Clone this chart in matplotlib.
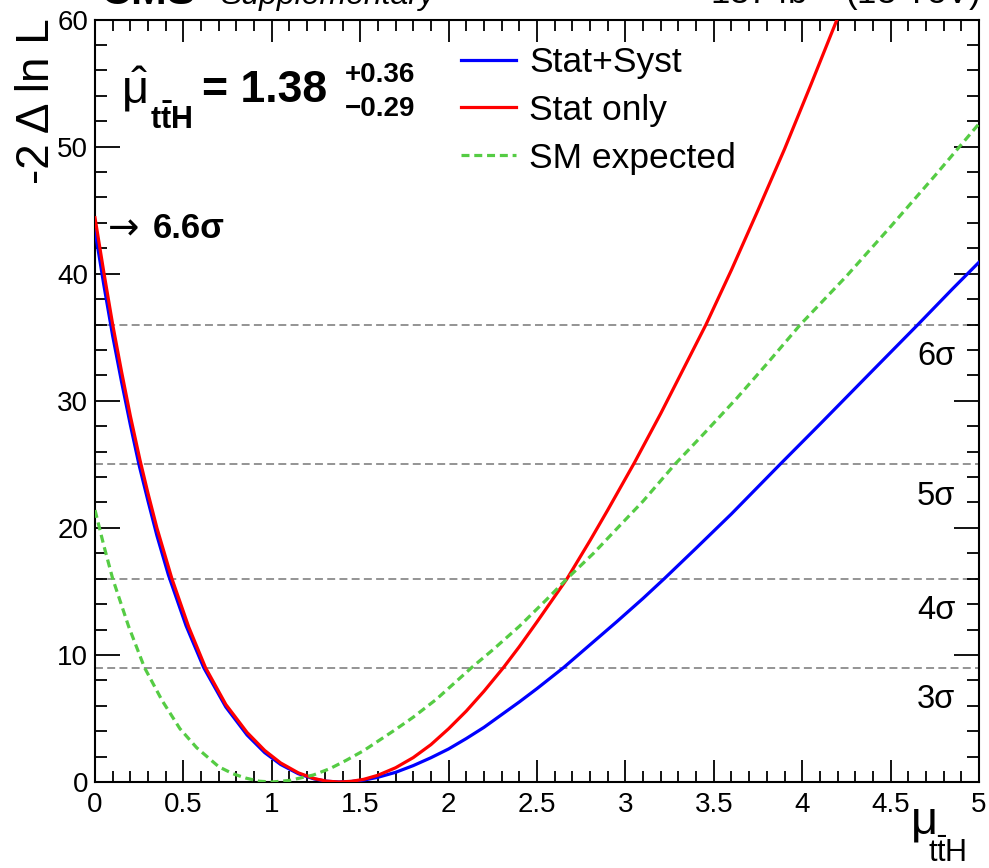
import matplotlib
matplotlib.use("Agg")
import matplotlib.pyplot as plt
from matplotlib.ticker import MultipleLocator, FuncFormatter

plt.rcParams["font.family"] = ["Liberation Sans", "DejaVu Sans"]
plt.rcParams["mathtext.fontset"] = "custom"
plt.rcParams["mathtext.rm"] = "Liberation Sans"
plt.rcParams["mathtext.it"] = "Liberation Sans:italic"
plt.rcParams["mathtext.bf"] = "Liberation Sans:bold"
plt.rcParams["mathtext.default"] = "regular"

# -2 dlnL scans
mu_syst = [0.0, 0.05, 0.1, 0.15, 0.2, 0.25, 0.3, 0.35, 0.415, 0.515, 0.615, 0.74,
           0.86, 0.96, 1.05, 1.15, 1.24, 1.31, 1.38, 1.45, 1.52, 1.6, 1.7, 1.8, 1.9,
           2.0, 2.1, 2.2, 2.3, 2.4, 2.5, 2.65, 2.8, 2.95, 3.1, 3.22, 3.4, 3.6, 3.875,
           4.1, 4.4, 4.655, 4.85, 5.0]
nll_syst = [43.4, 39.1, 35.1, 31.5, 28.1, 24.9, 22.1, 19.4, 16.3, 12.3, 9.0, 5.9,
            3.7, 2.31, 1.38, 0.65, 0.24, 0.06, 0.0, 0.04, 0.15, 0.37, 0.76, 1.29, 1.91,
            2.6, 3.42, 4.3, 5.3, 6.3, 7.35, 9.0, 10.8, 12.6, 14.45, 16.0, 18.4, 21.1, 25.0,
            28.15, 32.4, 36.0, 38.8, 40.9]

mu_stat = [0.0, 0.05, 0.1, 0.15, 0.2, 0.255, 0.3, 0.35, 0.435, 0.53, 0.625, 0.74,
           0.86, 0.96, 1.05, 1.15, 1.24, 1.31, 1.38, 1.45, 1.52, 1.6, 1.7, 1.8, 1.9,
           2.0, 2.1, 2.2, 2.31, 2.4, 2.5, 2.6, 2.67, 2.8, 2.9, 3.05, 3.2, 3.35, 3.456,
           3.6, 3.75, 3.9, 4.05, 4.197, 4.3]
nll_stat = [44.4, 40.1, 36.0, 32.3, 28.8, 25.3, 22.7, 20.0, 16.0, 12.2, 9.0, 6.1,
            3.9, 2.48, 1.5, 0.72, 0.27, 0.067, 0.0, 0.053, 0.21, 0.53, 1.12, 1.92, 2.94,
            4.19, 5.58, 7.14, 9.0, 10.65, 12.6, 14.6, 16.0, 19.0, 21.4, 25.1, 29.0, 33.1,
            36.0, 40.3, 45.0, 49.8, 54.9, 60.0, 63.5]

mu_sm = [0.0, 0.05, 0.1, 0.19, 0.28, 0.38, 0.48, 0.575, 0.7, 0.78, 0.855, 0.93, 1.0,
         1.1, 1.235, 1.33, 1.42, 1.52, 1.61, 1.7, 1.8, 1.93, 2.13, 2.25, 2.4, 2.55,
         2.67, 2.82, 2.97, 3.1, 3.28, 3.45, 3.63, 3.8, 3.99, 4.25, 4.5, 4.75, 5.0]
nll_sm = [21.4, 18.6, 16.0, 12.25, 9.0, 6.4, 4.2, 2.7, 1.2, 0.65, 0.3, 0.06, 0.0,
          0.12, 0.55, 1.06, 1.7, 2.47, 3.3, 4.13, 5.1, 6.5, 9.0, 10.4, 12.25, 14.3,
          16.0, 18.0, 20.2, 22.1, 25.0, 27.5, 30.2, 32.9, 36.0, 39.8, 43.7, 47.7, 51.8]

sigma_levels = [3, 4, 5, 6]
legend_labels = ["Stat+Syst", "Stat only", "SM expected"]

W, H = 989, 868


def at(px, py):
    # figure pixel (top-left origin) -> figure fraction
    return px / W, 1 - py / H


fig = plt.figure(figsize=(W / 100, H / 100), dpi=100)
ax = fig.add_axes([95 / W, 86 / H, 884 / W, 762.5 / H])

for s in sigma_levels:
    ax.axhline(s * s, color="#777777", lw=1.1, ls=(0, (5.2, 2.8)), zorder=1)

l1, = ax.plot(mu_syst, nll_syst, color="#0000ff", lw=2.3, zorder=3)
l2, = ax.plot(mu_stat, nll_stat, color="#ff0000", lw=2.3, zorder=4)
l3, = ax.plot(mu_sm, nll_sm, color="#55cc44", lw=2.3, ls=(0, (2.5, 1.5)), zorder=5)

ax.set_xlim(0, 5)
ax.set_ylim(0, 60)
ax.xaxis.set_major_locator(MultipleLocator(0.5))
ax.xaxis.set_minor_locator(MultipleLocator(0.1))
ax.yaxis.set_major_locator(MultipleLocator(10))
ax.yaxis.set_minor_locator(MultipleLocator(2))
ax.xaxis.set_major_formatter(FuncFormatter(lambda v, p: f"{v:g}"))
ax.tick_params(which="both", direction="in", top=True, right=True, width=1.3,
               colors="black", labelsize=20)
ax.tick_params(axis="x", which="major", length=16, pad=7)
ax.tick_params(axis="x", which="minor", length=8)
ax.tick_params(axis="y", which="major", length=18, pad=5)
ax.tick_params(axis="y", which="minor", length=8.5)
for sp in ax.spines.values():
    sp.set_linewidth(1.5)

# sigma labels on the right
for s in sigma_levels:
    ax.text(4.865, s * s - 2.5, f"{s}σ", ha="right", va="center", fontsize=23.5)

# legend
fig.legend([l1, l2, l3], legend_labels, loc="upper left",
           bbox_to_anchor=at(461, 46), frameon=False, fontsize=25.5,
           borderpad=0, borderaxespad=0, handlelength=1.55, handletextpad=0.38,
           labelspacing=0.42)

# best-fit annotation
fig.text(*at(121, 103), r"$\hat{\mu}$", fontsize=34, va="baseline")
fig.text(*at(150, 129), r"$\mathbf{t\bar{t}H}$", fontsize=22, va="baseline")
fig.text(*at(202, 102), "= 1.38", fontsize=32, fontweight="bold", va="baseline")
fig.text(*at(345, 82), "+0.36", fontsize=20, fontweight="bold", va="baseline")
fig.text(*at(345, 116), "\u22120.29", fontsize=20, fontweight="bold", va="baseline")

# observed significance
fig.text(*at(108, 229), "\u2192", fontsize=27, family="DejaVu Sans", va="center")
fig.text(*at(153, 228), "6.6σ", fontsize=25, fontweight="bold", va="center")

# axis titles
fig.text(*at(37, 18), "-2 \u0394 ln L", rotation=90, ha="center", va="top", fontsize=33)
fig.text(*at(911, 834), "μ", fontsize=34, va="baseline")
fig.text(*at(928, 862), r"$\mathrm{t\bar{t}H}$", fontsize=22, va="baseline")

# header (cropped at the top of the canvas)
fig.text(*at(100, 4), "CMS", fontsize=31, fontweight="bold", va="baseline")
fig.text(*at(220, 4), "Supplementary", fontsize=23, style="italic", va="baseline")
fig.text(*at(980, 4), r"137 fb$^{-1}$ (13 TeV)", fontsize=25, ha="right", va="baseline")

fig.savefig("out.png", dpi=100)
